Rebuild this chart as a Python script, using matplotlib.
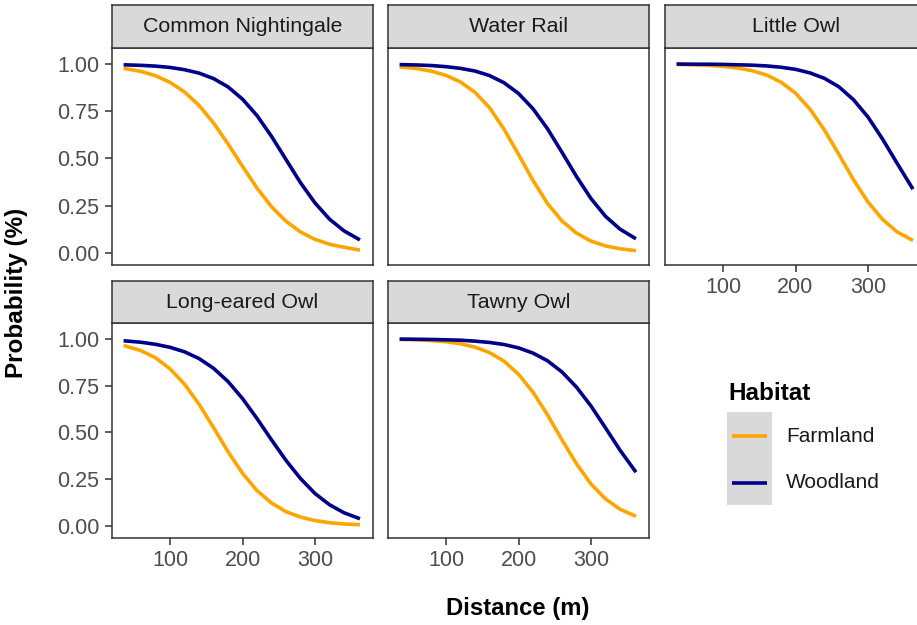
import matplotlib
matplotlib.use("Agg")
import matplotlib.pyplot as plt
from matplotlib.patches import Rectangle
from matplotlib.lines import Line2D

plt.rcParams['font.family'] = ['Liberation Sans', 'DejaVu Sans']

#distances along the x axis (m)
distance = [36, 60, 80, 100, 120, 140, 160, 180, 200, 220, 240, 260, 280, 300, 320, 340, 362]

species = ["Common Nightingale", "Water Rail", "Little Owl", "Long-eared Owl", "Tawny Owl"]

nightingale_farm = [0.977, 0.961, 0.938, 0.903, 0.852, 0.781, 0.688, 0.577, 0.458, 0.343, 0.244, 0.167, 0.110, 0.071, 0.045, 0.029, 0.014]
nightingale_wood = [0.996, 0.993, 0.989, 0.982, 0.970, 0.952, 0.923, 0.879, 0.814, 0.727, 0.617, 0.494, 0.371, 0.264, 0.178, 0.116, 0.068]
waterrail_farm = [0.985, 0.976, 0.962, 0.940, 0.905, 0.850, 0.769, 0.655, 0.521, 0.383, 0.261, 0.168, 0.104, 0.062, 0.036, 0.021, 0.011]
waterrail_wood = [0.997, 0.995, 0.992, 0.986, 0.977, 0.963, 0.939, 0.901, 0.844, 0.763, 0.657, 0.532, 0.404, 0.287, 0.193, 0.125, 0.074]
littleowl_farm = [0.998, 0.996, 0.993, 0.988, 0.979, 0.965, 0.942, 0.904, 0.846, 0.761, 0.650, 0.520, 0.387, 0.269, 0.177, 0.111, 0.065]
littleowl_wood = [1.000, 0.999, 0.999, 0.998, 0.996, 0.994, 0.990, 0.983, 0.972, 0.953, 0.924, 0.879, 0.811, 0.719, 0.603, 0.475, 0.337]
longeared_farm = [0.965, 0.937, 0.899, 0.840, 0.758, 0.651, 0.526, 0.397, 0.281, 0.189, 0.122, 0.076, 0.047, 0.028, 0.017, 0.010, 0.006]
longeared_wood = [0.990, 0.982, 0.971, 0.955, 0.931, 0.895, 0.843, 0.772, 0.681, 0.574, 0.460, 0.350, 0.253, 0.173, 0.113, 0.070, 0.038]
tawny_farm = [0.997, 0.995, 0.991, 0.985, 0.974, 0.956, 0.927, 0.881, 0.811, 0.715, 0.594, 0.460, 0.332, 0.224, 0.144, 0.089, 0.051]
tawny_wood = [0.999, 0.998, 0.997, 0.995, 0.993, 0.988, 0.981, 0.970, 0.952, 0.924, 0.883, 0.823, 0.742, 0.641, 0.524, 0.405, 0.287]

farmland = [nightingale_farm, waterrail_farm, littleowl_farm, longeared_farm, tawny_farm]
woodland = [nightingale_wood, waterrail_wood, littleowl_wood, longeared_wood, tawny_wood]

habitats = ["Farmland", "Woodland"]
colours = ["#FFA500", "#00008B"]

x_ticks = [100, 200, 300]
y_ticks = [0, 0.25, 0.5, 0.75, 1.0]
y_labels = ["0.00", "0.25", "0.50", "0.75", "1.00"]

W, H = 917, 625
fig = plt.figure(figsize=(W / 100, H / 100), dpi=100)

def rect(x0, x1, ytop, ybot):
    return [x0 / W, 1 - ybot / H, (x1 - x0) / W, (ybot - ytop) / H]

#panel pixel boxes: (left, right) and (strip top, panel top, panel bottom)
cols = [(112, 373), (388, 649), (665, 926)]
rows = [(5, 48, 265), (281, 323, 538)]
grid = [(0, 0), (0, 1), (0, 2), (1, 0), (1, 1)]

edge = "#333333"
lw = 2.6
for i, name in enumerate(species):
    r, c = grid[i]
    x0, x1 = cols[c]
    st, pt, pb = rows[r]
    ax = fig.add_axes(rect(x0, x1, pt, pb))
    ax.plot(distance, farmland[i], color=colours[0], lw=lw, solid_capstyle="butt")
    ax.plot(distance, woodland[i], color=colours[1], lw=lw, solid_capstyle="butt")
    ax.set_xlim(20, 380)
    ax.set_ylim(-0.065, 1.085)
    for s in ax.spines.values():
        s.set_color(edge)
        s.set_linewidth(1.1)
    ax.tick_params(colors=edge, length=5, width=1.1, labelcolor="#4D4D4D", labelsize=15.5, pad=4)
    ax.set_xticks(x_ticks)
    ax.set_yticks(y_ticks)
    if c == 0:
        ax.set_yticklabels(y_labels)
    else:
        ax.tick_params(axis="y", left=False, labelleft=False)
    if r == 1 or c == 2:
        ax.set_xticklabels([str(t) for t in x_ticks])
    else:
        ax.tick_params(axis="x", bottom=False, labelbottom=False)

    #facet strip
    sax = fig.add_axes(rect(x0, x1, st, pt))
    sax.set_facecolor("#D9D9D9")
    sax.set_xticks([])
    sax.set_yticks([])
    for s in sax.spines.values():
        s.set_color(edge)
        s.set_linewidth(1.1)
    sax.text(0.5, 0.5, name, ha="center", va="center", fontsize=15.4, color="#1A1A1A", transform=sax.transAxes)

#axis titles
fig.text(17 / W, 1 - 293 / H, "Probability (%)", rotation=90, ha="center", va="center", fontsize=17.5, fontweight="bold")
fig.text(518 / W, 1 - 608 / H, "Distance (m)", ha="center", va="center", fontsize=17.2, fontweight="bold")

#legend
fig.text(728 / W, 1 - 393 / H, "Habitat", ha="left", va="center", fontsize=17.5, fontweight="bold")
fig.patches.append(Rectangle((727 / W, 1 - 505 / H), 45 / W, 93 / H, transform=fig.transFigure, facecolor="#D9D9D9", edgecolor="none"))
for hab, col, yy in zip(habitats, colours, [436, 483]):
    fig.lines.append(Line2D([732 / W, 767 / W], [1 - yy / H, 1 - yy / H], transform=fig.transFigure, color=col, lw=lw, solid_capstyle="butt"))
    fig.text(786 / W, 1 - yy / H, hab, ha="left", va="center", fontsize=15, color="#1A1A1A")

plt.savefig("out.png", dpi=100)
